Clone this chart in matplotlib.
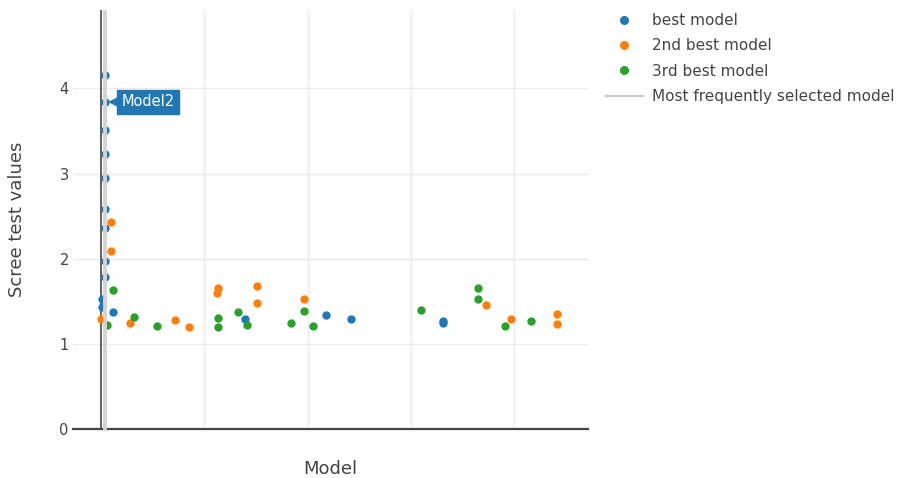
import matplotlib
matplotlib.use("Agg")
import matplotlib.pyplot as plt
from matplotlib.lines import Line2D
import matplotlib.transforms as mtransforms

plt.rcParams['font.family'] = ['DejaVu Sans']

# ---- data ----
best_x = [3.6, 3.6, 3.6, 3.6, 3.6, 3.6, 3.6, 3.6, 3.6, 0.5, 0.5, 11.3,
          139.1, 218.1, 241.7, 330.8, 330.8]
best_y = [4.155, 3.84, 3.506, 3.228, 2.946, 2.586, 2.356, 1.97, 1.79, 1.526, 1.43, 1.37,
          1.295, 1.335, 1.295, 1.265, 1.24]

second_x = [0.3, 9.4, 9.4, 28.4, 72.1, 85.5, 113.5, 112.5, 151.0, 151.0, 196.8,
            373.0, 396.9, 441.7, 441.7]
second_y = [1.295, 2.43, 2.085, 1.25, 1.28, 1.20, 1.655, 1.60, 1.68, 1.485, 1.53,
            1.46, 1.295, 1.353, 1.236]

third_x = [6.3, 11.3, 31.9, 54.2, 112.8, 112.8, 132.3, 141.3, 184.2, 196.8, 204.9,
           310.1, 365.0, 365.0, 391.1, 416.3]
third_y = [1.22, 1.63, 1.31, 1.21, 1.30, 1.20, 1.37, 1.216, 1.25, 1.38, 1.21,
           1.40, 1.657, 1.525, 1.21, 1.27]

selected_x = 3.6
selected_label = "Model2"
selected_y = 3.84

series_names = ["best model", "2nd best model", "3rd best model"]
line_name = "Most frequently selected model"
colors = ["#1f77b4", "#ff7f0e", "#2ca02c"]
yticks = [0, 1, 2, 3, 4]
xgrid = [100, 200, 300, 400]

# ---- figure ----
W, H = 897, 478
fig = plt.figure(figsize=(W / 100, H / 100), dpi=100)
ax = fig.add_axes([73 / W, 1 - 429 / H, (588 - 73) / W, (429 - 10) / H])
ax.set_xlim(-27.1, 471.5)
ax.set_ylim(0, 4.92)

for s in ax.spines.values():
    s.set_visible(False)

grid_c = "#ebebeb"
for v in yticks[1:]:
    ax.axhline(v, color=grid_c, lw=1.0, zorder=0)
for v in xgrid:
    ax.axvline(v, color=grid_c, lw=1.0, zorder=0)

# zero lines
ax.axhline(0, color="#444444", lw=1.6, zorder=1, clip_on=False)
ax.axvline(0, color="#555555", lw=1.3, zorder=1)

ms = 36
ax.scatter(best_x, best_y, s=ms, color=colors[0], zorder=3, linewidths=0)
ax.scatter(second_x, second_y, s=ms, color=colors[1], zorder=3, linewidths=0)
ax.scatter(third_x, third_y, s=ms, color=colors[2], zorder=3, linewidths=0)

# most frequently selected model line (drawn above markers)
ax.plot([selected_x, selected_x], [-0.02, 4.92], color="#d4d4d4", lw=2.8,
        zorder=4, clip_on=False, solid_capstyle="butt")

ax.set_yticks(yticks)
ax.set_xticks([])
ax.tick_params(axis="y", length=0, pad=3, labelsize=10.5, labelcolor="#444444")
ax.set_ylabel("Scree test values", fontsize=13, color="#444444", labelpad=24)
ax.set_xlabel("Model", fontsize=13, color="#444444", labelpad=22)

# hover label
ax.annotate(selected_label, xy=(selected_x, selected_y), xytext=(17, 0),
            textcoords="offset pixels", ha="left", va="center",
            fontsize=10.5, color="white", zorder=6,
            bbox=dict(boxstyle="square,pad=0.3", fc=colors[0], ec=colors[0]))
ax.plot([selected_x], [selected_y], marker="<", ms=8, color=colors[0],
        markeredgewidth=0, zorder=6, linestyle="none",
        transform=ax.transData + mtransforms.ScaledTranslation(9 / 100, 0, fig.dpi_scale_trans))

handles = [Line2D([], [], marker="o", linestyle="none", color=c, markersize=5.5)
           for c in colors]
handles.append(Line2D([], [], color="#cccccc", lw=1.6))
leg = fig.legend(handles, series_names + [line_name], loc="upper left",
                 bbox_to_anchor=(606 / W, 1 - 13 / H), frameon=False,
                 fontsize=11, labelcolor="#444444", handlelength=2.4,
                 handletextpad=0.6, labelspacing=0.68, borderpad=0,
                 borderaxespad=0)

fig.savefig("out.png", dpi=100)
